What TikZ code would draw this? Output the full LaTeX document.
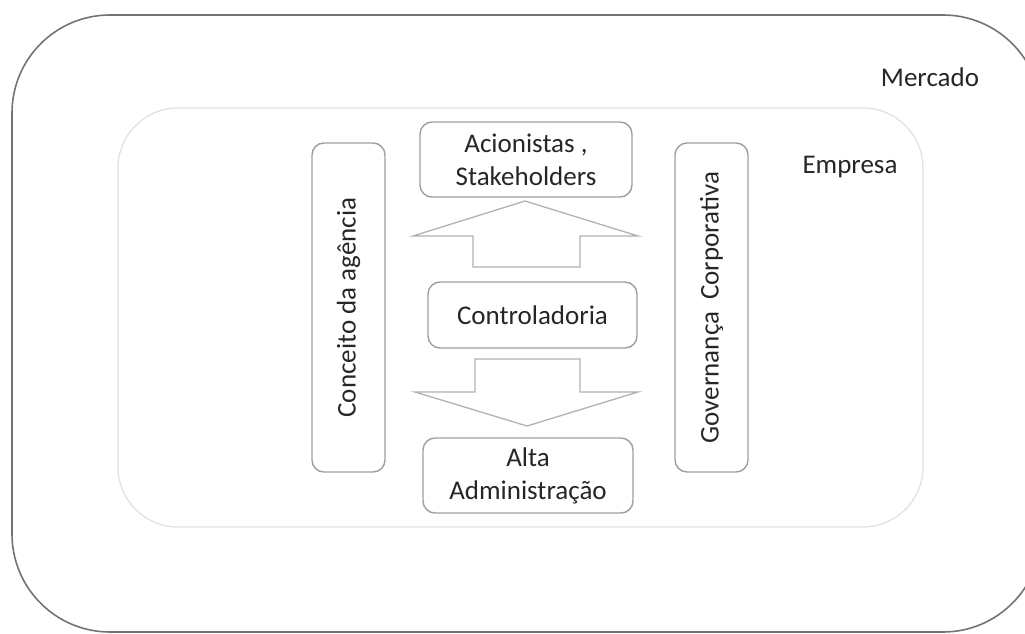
\documentclass[tikz,border=0pt]{standalone}
\usepackage{fontspec}
\setmainfont{Carlito}
\begin{document}
\begin{tikzpicture}[x=1pt,y=-1pt,
  every node/.style={font=\fontsize{27}{33}\selectfont, text=black!85},
  boxnode/.style={draw=black!38, line width=1.4pt, rounded corners=12pt, align=center, inner sep=0pt},
  blockarrow/.style={draw=black!30, line width=1.3pt, fill=white, line join=miter}]
\useasboundingbox (0,0) rectangle (1025,634);
\draw[black!55, line width=1.6pt, rounded corners=98pt] (12,15) rectangle (1041,632);
\draw[black!12, line width=1.2pt, rounded corners=60pt] (118,108) rectangle (923,527);
\node (mercado) at (930,77) {Mercado};
\node (empresa) at (850,167) {Empresa};
\node[boxnode, rotate=90, minimum width=329pt, minimum height=73pt] (conceito) at (348.5,307.5) {Conceito da agência};
\node[boxnode, rotate=90, minimum width=329pt, minimum height=73pt] (gov) at (711.5,307.5) {Governança\ \ Corporativa};
\node[boxnode, minimum width=212pt, minimum height=75pt] (acion) at (526,159.5) {Acionistas ,\\Stakeholders};
\node[boxnode, minimum width=209pt, minimum height=66pt] (contr) at (532.5,315) {Controladoria};
\node[boxnode, minimum width=210pt, minimum height=75pt] (alta) at (528,475.5) {Alta\\Administração};
\draw[blockarrow] (525,201) -- (638,236) -- (580,236) -- (580,267) -- (473,267) -- (473,236) -- (413,236) -- cycle;
\draw[blockarrow] (527,426) -- (638,392) -- (580,392) -- (580,359) -- (475,359) -- (475,392) -- (415,392) -- cycle;
\end{tikzpicture}
\end{document}
